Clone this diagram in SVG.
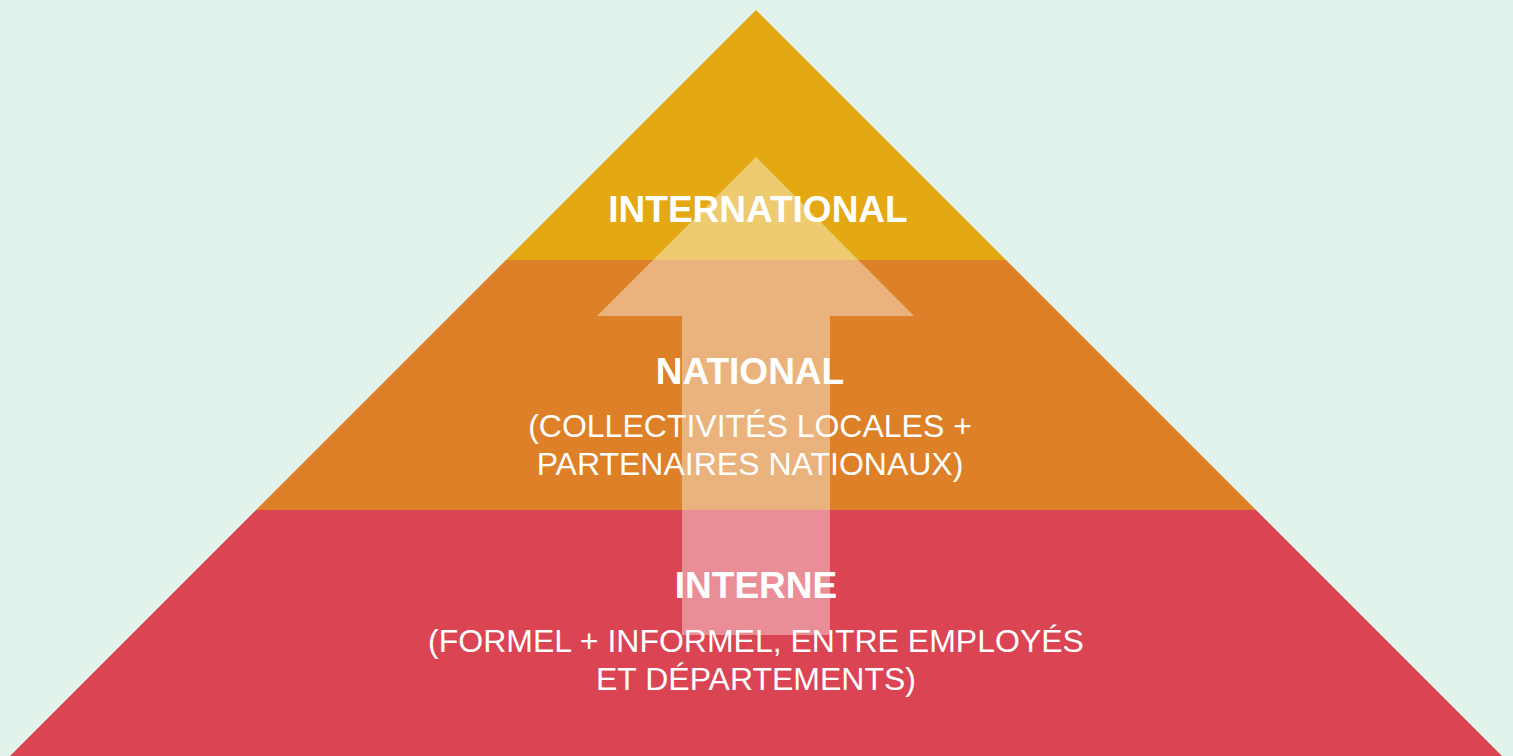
<svg xmlns="http://www.w3.org/2000/svg" width="1513" height="756" viewBox="0 0 1513 756">
<style>
.t{font-family:"Liberation Sans",Arial,sans-serif;fill:#fff;text-anchor:middle}
.b{font-weight:bold;font-size:37px}
.r{font-size:32px}
</style>
<rect width="1513" height="756" fill="#E2F3EC"/>
<g id="tier-international"><polygon points="756,10 1006,260 506,260" fill="#E3A812"/></g>
<g id="tier-national"><polygon points="506,260 1006,260 1256,510 256,510" fill="#DD8027"/></g>
<g id="tier-interne"><polygon points="256,510 1256,510 1502,756 10,756" fill="#DB4453"/></g>
<g id="connectors"><polygon points="756,157 914,316 830,316 830,635 682,635 682,316 597,316" fill="#fff" fill-opacity="0.4"/></g>
<g id="label-international"><text class="t b" x="758" y="222">INTERNATIONAL</text></g>
<g id="label-national"><text class="t b" x="750" y="384">NATIONAL</text>
<text class="t r" x="750" y="437">(COLLECTIVITÉS LOCALES +</text>
<text class="t r" x="750" y="475">PARTENAIRES NATIONAUX)</text></g>
<g id="label-interne"><text class="t b" x="756" y="598">INTERNE</text>
<text class="t r" x="756" y="652">(FORMEL + INFORMEL, ENTRE EMPLOYÉS</text>
<text class="t r" x="756" y="690">ET DÉPARTEMENTS)</text></g>
</svg>
